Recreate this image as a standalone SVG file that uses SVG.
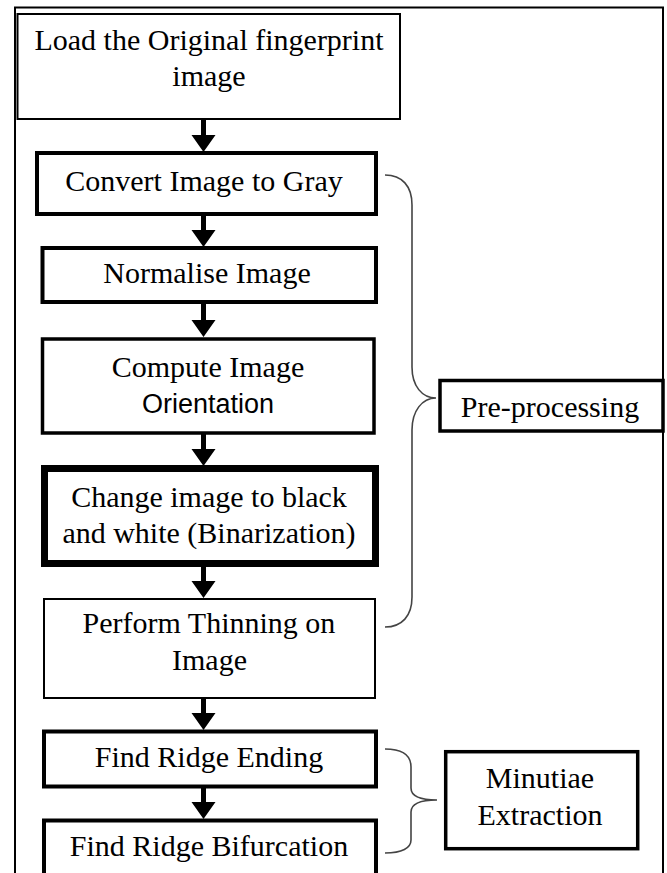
<svg xmlns="http://www.w3.org/2000/svg" width="667" height="873" viewBox="0 0 667 873">
<style>
.box{fill:#fff;stroke:#000}
.t{font-family:"Liberation Serif","Times New Roman",serif;font-size:30px;fill:#000;text-anchor:middle}
.s{font-family:"Liberation Sans",Arial,sans-serif;font-size:27px;fill:#000;text-anchor:middle}
.br{fill:none;stroke:#444;stroke-width:1.6}
.ar{fill:#000}
</style>
<rect width="667" height="873" fill="#fff"/>
<path d="M15,873 L15,7.5 L663,7.5 L663,873" fill="none" stroke="#000" stroke-width="2"/>
<g id="connectors">
<path class="ar" d="M201,120 h5 v15 h9.5 L203.5,152 L191.5,135 H201 z"/>
<path class="ar" d="M201,216 h5 v14 h9.5 L203.5,247 L191.5,230 H201 z"/>
<path class="ar" d="M201,304 h5 v16 h9.5 L203.5,337 L191.5,320 H201 z"/>
<path class="ar" d="M201,434 h5 v15 h9.5 L203.5,466 L191.5,449 H201 z"/>
<path class="ar" d="M201,567 h5 v14 h9.5 L203.5,598 L191.5,581 H201 z"/>
<path class="ar" d="M201,699 h5 v14 h9.5 L203.5,730 L191.5,713 H201 z"/>
<path class="ar" d="M201,788 h5 v14 h9.5 L203.5,819 L191.5,802 H201 z"/>
<path id="brace-pre" class="br" d="M385,175 C402,175 412,186 412,205 L412,367 C412,386 422,398 436,398 C422,398 412,411 412,430 L412,597 C412,616 402,627 385,627"/>
<path id="brace-min" class="br" d="M385,749 C402,749 411,755 411,767 L411,788 C411,796 420,800 437,800 C420,800 411,804 411,812 L411,840 C411,848 402,853 385,853"/>
</g>
<g id="n-load"><rect class="box" x="17.5" y="14" width="382.5" height="105" stroke-width="2"/>
<text class="t" x="209" y="50">Load the Original fingerprint</text><text class="t" x="209" y="86">image</text></g>
<g id="n-gray"><rect class="box" x="37" y="153" width="339" height="61" stroke-width="4"/>
<text class="t" x="204" y="191">Convert Image to Gray</text></g>
<g id="n-norm"><rect class="box" x="42.5" y="248" width="333.5" height="54" stroke-width="4"/>
<text class="t" x="207" y="283">Normalise Image</text></g>
<g id="n-orient"><rect class="box" x="42.5" y="339" width="331.5" height="94" stroke-width="3.5"/>
<text class="t" x="208" y="377">Compute Image</text><text class="s" x="208" y="413">Orientation</text></g>
<g id="n-bin"><rect class="box" x="44.5" y="468.5" width="331" height="95" stroke-width="7"/>
<text class="t" x="209" y="507">Change image to black</text><text class="t" x="209" y="543">and white (Binarization)</text></g>
<g id="n-thin"><rect class="box" x="44" y="599" width="331" height="99" stroke-width="2"/>
<text class="t" x="209" y="633">Perform Thinning on</text><text class="t" x="209.5" y="670">Image</text></g>
<g id="n-end"><rect class="box" x="44" y="731.5" width="332" height="55" stroke-width="4"/>
<text class="t" x="209" y="767">Find Ridge Ending</text></g>
<g id="n-bif"><rect class="box" x="44" y="820.5" width="332" height="62" stroke-width="4"/>
<text class="t" x="209" y="856">Find Ridge Bifurcation</text></g>
<g id="n-pre"><rect class="box" x="440" y="380.5" width="223" height="50.5" stroke-width="3.5"/>
<text class="t" x="550" y="417">Pre-processing</text></g>
<g id="n-min"><rect class="box" x="445.7" y="751.7" width="192" height="97" stroke-width="3.5"/>
<text class="t" x="540" y="788">Minutiae</text><text class="t" x="540" y="825">Extraction</text></g>
</svg>
